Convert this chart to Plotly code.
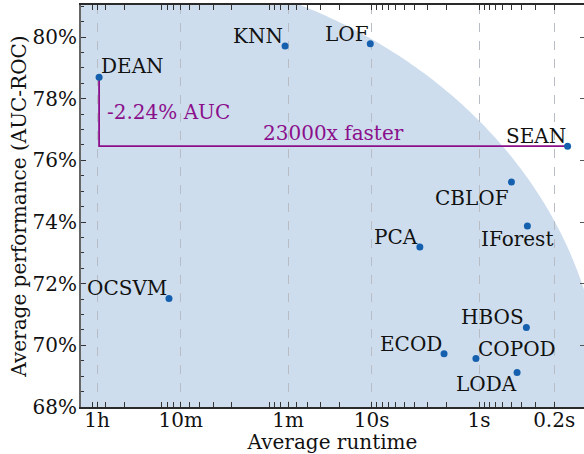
import numpy as np
import plotly.graph_objects as go

# ---- data ----
methods = ["DEAN", "KNN", "LOF", "SEAN", "CBLOF", "IForest", "PCA",
           "HBOS", "ECOD", "COPOD", "LODA", "OCSVM"]
runtime_s = [3450, 64, 10.3, 0.15, 0.50, 0.355, 3.56,
             0.363, 2.12, 1.07, 0.443, 771]
auc_pct = [78.70, 79.71, 79.78, 76.46, 75.30, 73.87, 73.19,
           70.58, 69.73, 69.57, 69.12, 71.52]

x_tick_vals = [3600, 600, 60, 10, 1, 0.2]
x_tick_text = ["1h", "10m", "1m", "10s", "1s", "0.2s"]
y_tick_vals = [68, 70, 72, 74, 76, 78, 80]
y_tick_text = [f"{v}%" for v in y_tick_vals]

# label placement: (xanchor, yanchor, xshift, yshift)
label_place = {
    "DEAN": ("left", "bottom", 0, -3),
    "KNN": ("right", "bottom", 0, -4),
    "LOF": ("right", "bottom", 1, -4),
    "SEAN": ("right", "bottom", 0, -4),
    "CBLOF": ("right", "top", 0, -2),
    "IForest": ("center", "top", -10, 1),
    "PCA": ("right", "bottom", 0, -4),
    "HBOS": ("right", "bottom", 0, -4),
    "ECOD": ("right", "bottom", 0, -4),
    "COPOD": ("left", "bottom", 0, -4),
    "LODA": ("right", "top", 2, 2),
    "OCSVM": ("right", "bottom", 0, -4),
}

FONT = "DejaVu Serif"
PURPLE = "#8b0f8b"
BLUE = "#1560ae"
SHADE = "#cddded"

fig = go.Figure()

# comparison bracket DEAN -> SEAN
i_d, i_s = methods.index("DEAN"), methods.index("SEAN")
fig.add_trace(go.Scatter(
    x=[runtime_s[i_d], runtime_s[i_d], runtime_s[i_s]],
    y=[auc_pct[i_d], auc_pct[i_s], auc_pct[i_s]],
    mode="lines", line=dict(color=PURPLE, width=1.8),
    hoverinfo="skip", showlegend=False))

fig.add_trace(go.Scatter(
    x=runtime_s, y=auc_pct, mode="markers",
    marker=dict(color=BLUE, size=7),
    text=methods, showlegend=False, cliponaxis=False))

# invisible trace to carry the right-hand tick axis
fig.add_trace(go.Scatter(x=[runtime_s[i_d]], y=[auc_pct[i_d]], yaxis="y2",
                         mode="markers", marker=dict(opacity=0),
                         hoverinfo="skip", showlegend=False))

for m, xv, yv in zip(methods, runtime_s, auc_pct):
    xa, ya, xs, ys = label_place[m]
    fig.add_annotation(x=np.log10(xv), y=yv, text=m, showarrow=False,
                       xanchor=xa, yanchor=ya, xshift=xs, yshift=ys,
                       font=dict(family=FONT, size=20, color="#111111"))

diff = auc_pct[i_d] - auc_pct[i_s]
speed = runtime_s[i_d] / runtime_s[i_s]
fig.add_annotation(x=np.log10(runtime_s[i_d]), y=(auc_pct[i_d] + auc_pct[i_s]) / 2,
                   text=f"-{diff:.2f}% AUC", showarrow=False,
                   xanchor="left", yanchor="middle", xshift=6,
                   font=dict(family=FONT, size=20, color=PURPLE))
fig.add_annotation(x=(np.log10(runtime_s[i_d]) + np.log10(runtime_s[i_s])) / 2,
                   y=auc_pct[i_s], text=f"{speed:.0f}x faster", showarrow=False,
                   xanchor="center", yanchor="bottom", yshift=-1,
                   font=dict(family=FONT, size=20, color=PURPLE))

# shaded quarter-ellipse region (paper coordinates, clipped to the plot box)
a, b = 1.037, 1.102
t1 = np.arcsin(1 / b)
t2 = np.arccos(1 / a)
ts = np.linspace(t1, t2, 80)
pts = ["M 0 0", "L 0 1"] + [f"L {a*np.cos(t):.5f} {b*np.sin(t):.5f}" for t in ts] + ["L 1 0", "Z"]
fig.add_shape(type="path", path=" ".join(pts), xref="paper", yref="paper",
              fillcolor=SHADE, line=dict(width=0), layer="below")

# minor ticks
minor_x = [m * 10.0 ** k for k in range(-2, 5) for m in range(2, 10)]
minor_y = [68 + 0.5 * i for i in range(0, 27)]
y_range = [68, 81.04]

fig.update_xaxes(
    type="log", range=[np.log10(5085), np.log10(0.1055)],
    tickmode="array", tickvals=x_tick_vals, ticktext=x_tick_text,
    ticks="inside", ticklen=5, tickwidth=1, tickcolor="#333",
    showgrid=True, gridcolor="#b8bcc4", griddash="dash", gridwidth=1,
    minor=dict(tickmode="array", tickvals=minor_x, ticks="inside",
               ticklen=3, tickcolor="#333", showgrid=False),
    showline=True, linecolor="#2a2a2a", linewidth=1.6, mirror="allticks",
    zeroline=False, automargin=False, ticklabelstandoff=-6,
    tickfont=dict(family=FONT, size=20, color="#111"),
    title=dict(text="Average runtime", font=dict(family=FONT, size=20, color="#111"),
               standoff=0),
)

fig.update_layout(
    yaxis=dict(
        range=y_range,
        tickmode="array", tickvals=y_tick_vals, ticktext=y_tick_text,
        ticks="inside", ticklen=5, tickwidth=1, tickcolor="#333",
        showgrid=False, zeroline=False, automargin=False, ticklabelstandoff=-2,
        minor=dict(tickmode="array", tickvals=minor_y, ticks="inside",
                   ticklen=3, tickcolor="#333", showgrid=False),
        showline=True, linecolor="#666", linewidth=2, mirror=False,
        tickfont=dict(family=FONT, size=20, color="#111"),
        title=dict(text="Average performance (AUC-ROC)",
                   font=dict(family=FONT, size=20, color="#111"), standoff=1),
    ),
    yaxis2=dict(
        overlaying="y", side="right", range=y_range,
        tickmode="array", tickvals=y_tick_vals, showticklabels=False,
        ticks="inside", ticklen=4, tickwidth=1, tickcolor="#555",
        showgrid=False, zeroline=False, showline=False, automargin=False,
    ),
    width=584, height=454,
    margin=dict(l=81, r=0, t=5, b=47),
    paper_bgcolor="white", plot_bgcolor="rgba(0,0,0,0)",
    font=dict(family=FONT, size=20, color="#111"),
    showlegend=False,
)

fig.write_html("out.html", config={"displayModeBar": False},
               post_script="document.body.style.margin='0';")
